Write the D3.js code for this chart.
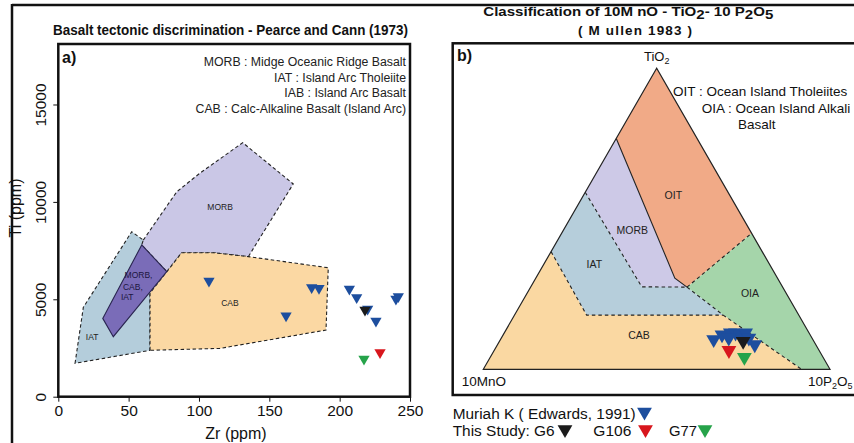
<!DOCTYPE html>
<html><head><meta charset="utf-8">
<script src="https://cdn.jsdelivr.net/npm/d3@7"></script>
<style>
body{margin:0;background:#fff}
svg{display:block}
text{font-family:"Liberation Sans",Arial,Helvetica,sans-serif}
</style>
</head><body>
<svg id="c" width="854" height="443"></svg>
<script>
// ---------------- Panel a : Pearce & Cann (1973), Zr vs Ti (ppm) ----------------
const zrTicks = [0, 50, 100, 150, 200, 250];
const tiTicks = [0, 5000, 10000, 15000];
const iatField  = [[11.9,1715],[17.8,4590],[52.2,8470],[60.4,8040],[77.1,6420],[65.2,5320],[65.2,2380]];
const morbField = [[60.4,8040],[84.2,10520],[100.6,11470],[131.1,13040],[167.0,10920],[135.1,7190],[110.2,7390],[87.7,7390],[77.1,6420],[59.3,7790]];
const cabField  = [[65.2,2380],[65.2,5320],[87.7,7390],[110.2,7390],[135.1,7190],[191.9,6620],[190.3,3420],[114.9,2480]];
const mixField  = [[59.3,7790],[77.1,6420],[39.1,3080],[31.6,4020]];
const muriahZr = [107.1, 161.9, 180.1, 185.3, 206.9, 212.1, 219.9, 225.8, 240.0, 241.7];
const muriahTi = [5940, 4160, 5600, 5565, 5530, 5090, 4500, 3890, 5015, 5140];
const studyNames = ["G6", "G106", "G77"];
const studyZr = [218.0, 228.7, 217.3];
const studyTi = [4450, 2265, 1935];
const legendA = ["MORB : Midge Oceanic Ridge Basalt", "IAT : Island Arc Tholeiite", "IAB : Island Arc Basalt", "CAB : Calc-Alkaline Basalt (Island Arc)"];

// ---------------- Panel b : Mullen (1983), [TiO2, 10MnO, 10P2O5] % ----------------
const oitField  = [[100,0,0],[76.7,23.3,0],[30.3,29.6,40.1],[27.3,27.6,45.1],[45.2,0,54.8]];
const oiaField  = [[27.3,27.6,45.1],[45.2,0,54.8],[0,0,100],[0,8.2,91.8],[18.0,21.8,60.2]];
const morbTern  = [[76.7,23.3,0],[58.8,41.2,0],[27.4,40.6,32.0],[27.3,27.6,45.1],[30.3,29.6,40.1]];
const iatTern   = [[58.8,41.2,0],[39.1,60.9,0],[18.0,61.2,20.8],[18.0,21.8,60.2],[27.3,27.6,45.1],[27.4,40.6,32.0]];
const cabTern   = [[39.1,60.9,0],[0,100,0],[0,8.2,91.8],[18.0,21.8,60.2],[18.0,61.2,20.8]];
const solidLine = [[76.7,23.3,0],[30.3,29.6,40.1],[27.3,27.6,45.1]];
const dashLines = [
  [[27.3,27.6,45.1],[45.2,0,54.8]],
  [[58.8,41.2,0],[27.4,40.6,32.0],[27.3,27.6,45.1]],
  [[39.1,60.9,0],[18.0,61.2,20.8],[18.0,21.8,60.2]],
  [[27.3,27.6,45.1],[18.0,21.8,60.2],[0,8.2,91.8]]
];
const muriahTern = [[9.9,28.6,61.5],[11.5,25.4,63.1],[12.1,22.7,65.2],[12.1,21.2,66.7],[11.5,20.1,68.4],[12.1,18.3,69.6],[10.4,18.2,71.4],[8.2,17.6,74.2],[10.4,24.0,65.6]];
const studyTern  = [[9.3,20.4,70.3],[6.3,26.0,67.7],[4.0,22.7,73.3]];

const blue = "#1d4e9e";
const studyColors = ["#1b1b1b", "#d8161d", "#26a34a"];

const svg = d3.select("#c");
svg.append("rect").attr("width",854).attr("height",443).attr("fill","#fff");

// frame lines
svg.append("line").attr("x1",12).attr("x2",854).attr("y1",5).attr("y2",5).attr("stroke","#111").attr("stroke-width",2.5);
svg.append("line").attr("x1",12).attr("x2",12).attr("y1",4).attr("y2",443).attr("stroke","#111").attr("stroke-width",2.5);

const tri = (s) => d3.symbol(d3.symbolTriangle, s)();

// ================= Panel a =================
const ax = d3.scaleLinear().domain([0,250]).range([58.3,410]);
const ay = d3.scaleLinear().domain([0,18105]).range([396.7,44]);
const gA = svg.append("g");
gA.append("rect").attr("x",58.3).attr("y",44).attr("width",410-58.3).attr("height",396.7-44).attr("fill","#fff");

const polyLine = d3.line().x(d=>ax(d[0])).y(d=>ay(d[1])).curve(d3.curveLinearClosed);
function field(pts, fill, dash, stroke) {
  gA.append("path").attr("d", polyLine(pts)).attr("fill", fill)
    .attr("stroke", stroke || "#222").attr("stroke-width", 1.1)
    .attr("stroke-dasharray", dash ? "3.5,2.5" : null);
}
field(iatField, "#b4cddb", true);
field(morbField, "#cac7e6", true);
field(cabField, "#fbd8a3", true);
field(mixField, "#7a6cb8", false, "#2a2550");

function fLabel(g, x, y, t, size, color) {
  g.append("text").attr("x",x).attr("y",y).attr("text-anchor","middle").attr("dominant-baseline","central")
   .attr("font-size",size).attr("fill",color||"#222").text(t);
}
fLabel(gA, ax(115), ay(9720), "MORB", 8.5);
fLabel(gA, ax(122), ay(4810), "CAB", 8.5);
fLabel(gA, ax(24), ay(3050), "IAT", 8.5);
fLabel(gA, ax(57), ay(6230), "MORB,", 8.5, "#1c1640");
fLabel(gA, ax(53), ay(5650), "CAB,", 8.5, "#1c1640");
fLabel(gA, ax(49), ay(5100), "IAT", 8.5, "#1c1640");

// points
gA.selectAll("path.mur").data(muriahZr).join("path").attr("class","mur")
  .attr("d", tri(55)).attr("fill", blue)
  .attr("transform",(d,i)=>`translate(${ax(d)},${ay(muriahTi[i])}) rotate(180)`);
gA.selectAll("path.st").data(studyZr).join("path").attr("class","st")
  .attr("d", tri(55)).attr("fill",(d,i)=>studyColors[i])
  .attr("transform",(d,i)=>`translate(${ax(d)},${ay(studyTi[i])}) rotate(180)`);

// axes
const xAxisA = d3.axisBottom(ax).tickValues(zrTicks).tickSize(5).tickPadding(3);
const yAxisA = d3.axisLeft(ay).tickValues(tiTicks).tickFormat(d3.format("d")).tickSize(5).tickPadding(3);
const gx = gA.append("g").attr("transform","translate(0,396.7)").call(xAxisA);
gx.select(".domain").remove();
gx.selectAll("text").attr("font-size",15.5).attr("fill","#111").attr("font-family",'"Liberation Sans",Arial,sans-serif');
gx.selectAll("line").attr("stroke","#111");
const gy = gA.append("g").attr("transform","translate(58.3,0)").call(yAxisA);
gy.select(".domain").remove();
gy.selectAll("line").attr("stroke","#111");
gy.selectAll("text").attr("font-size",15.5).attr("fill","#111").attr("font-family",'"Liberation Sans",Arial,sans-serif')
  .attr("text-anchor","middle").attr("dy",null).attr("dominant-baseline","central")
  .attr("transform","translate(-18,0) rotate(-90)").attr("x",0);
gA.append("rect").attr("x",58.3).attr("y",44).attr("width",410-58.3).attr("height",396.7-44)
  .attr("fill","none").attr("stroke","#111").attr("stroke-width",2.5);

gA.append("text").attr("x",236).attr("y",439).attr("text-anchor","middle").attr("font-size",16).attr("fill","#111").text("Zr (ppm)");
gA.append("text").attr("transform","translate(21,208) rotate(-90)").attr("text-anchor","middle").attr("font-size",16).attr("fill","#111").text("Ti (ppm)");
gA.append("text").attr("x",53).attr("y",35).attr("font-size",14).attr("font-weight","bold").attr("fill","#111")
  .attr("textLength",355).attr("lengthAdjust","spacingAndGlyphs").text("Basalt tectonic discrimination -  Pearce and Cann (1973)");
gA.append("text").attr("x",62).attr("y",63).attr("font-size",16).attr("font-weight","bold").attr("fill","#111").text("a)");
gA.selectAll("text.lg").data(legendA).join("text").attr("class","lg")
  .attr("x",406).attr("y",(d,i)=>66+i*15.6).attr("text-anchor","end").attr("font-size",12.3).attr("fill","#222").text(d=>d);

// ================= Panel b =================
const gB = svg.append("g");
gB.append("rect").attr("x",452.7).attr("y",43.3).attr("width",430).attr("height",395-43.3)
  .attr("fill","#fff").attr("stroke","#111").attr("stroke-width",2.5);
const bx = d3.scaleLinear().domain([0,100]).range([483.3,830]);
const by = d3.scaleLinear().domain([0,100]).range([369.3,68.3]);
const px = d => bx(d[2] + d[0]/2);
const py = d => by(d[0]);
const tline = d3.line().x(px).y(py);
function tField(pts, fill) {
  gB.append("path").attr("d", tline(pts) + "Z").attr("fill", fill).attr("stroke","none");
}
tField(oitField, "#f1aa87");
tField(oiaField, "#a5d5aa");
tField(morbTern, "#cdc9e7");
tField(iatTern, "#b6cedb");
tField(cabTern, "#fad8a2");
dashLines.forEach(l => gB.append("path").attr("d", tline(l)).attr("fill","none").attr("stroke","#222").attr("stroke-width",1.1).attr("stroke-dasharray","3.5,3"));
gB.append("path").attr("d", tline(solidLine)).attr("fill","none").attr("stroke","#222").attr("stroke-width",1.1);
gB.append("path").attr("d", tline([[100,0,0],[0,100,0],[0,0,100]]) + "Z").attr("fill","none").attr("stroke","#222").attr("stroke-width",1.2);

fLabel(gB, 673.3, 195, "OIT", 10.5);
fLabel(gB, 632.3, 230, "MORB", 10.5);
fLabel(gB, 594.3, 264.3, "IAT", 10.5);
fLabel(gB, 750, 293.3, "OIA", 10.5);
fLabel(gB, 639, 335, "CAB", 10.5);

gB.selectAll("path.mur").data(muriahTern).join("path").attr("class","mur")
  .attr("d", tri(95)).attr("fill", blue)
  .attr("transform", d=>`translate(${px(d)},${py(d)}) rotate(180)`);
gB.selectAll("path.st").data(studyTern).join("path").attr("class","st")
  .attr("d", tri(95)).attr("fill",(d,i)=>studyColors[i])
  .attr("transform", d=>`translate(${px(d)},${py(d)}) rotate(180)`);

// vertex labels
const tio = gB.append("text").attr("x",656.7).attr("y",61).attr("text-anchor","middle").attr("font-size",13).attr("fill","#111");
tio.append("tspan").text("TiO"); tio.append("tspan").attr("font-size",9).attr("dy",3).text("2");
gB.append("text").attr("x",461.7).attr("y",385.5).attr("font-size",13.5).attr("fill","#111").text("10MnO");
const p2 = gB.append("text").attr("x",808).attr("y",385.5).attr("font-size",13.5).attr("fill","#111");
p2.append("tspan").text("10P"); p2.append("tspan").attr("font-size",9).attr("dy",3).text("2");
p2.append("tspan").attr("dy",-3).text("O"); p2.append("tspan").attr("font-size",9).attr("dy",3).text("5");

// legend inside b
gB.append("text").attr("x",673).attr("y",96).attr("font-size",13.5).attr("fill","#111").text("OIT : Ocean Island Tholeiites");
gB.append("text").attr("x",701.7).attr("y",113).attr("font-size",13.5).attr("fill","#111").text("OIA : Ocean Island Alkali");
gB.append("text").attr("x",738).attr("y",128.5).attr("font-size",13.5).attr("fill","#111").text("Basalt");
gB.append("text").attr("x",457).attr("y",61).attr("font-size",16).attr("font-weight","bold").attr("fill","#111").text("b)");

// title b
const t1 = svg.append("text").attr("x",483.3).attr("y",16).attr("font-size",13.5).attr("font-weight","bold").attr("fill","#111")
  .attr("textLength",290).attr("lengthAdjust","spacingAndGlyphs");
t1.append("tspan").text("Classification of 10M nO  -  TiO");
t1.append("tspan").attr("dy",3).text("2");
t1.append("tspan").attr("dy",-3).text("-  10 P");
t1.append("tspan").attr("dy",3).text("2");
t1.append("tspan").attr("dy",-3).text("O");
t1.append("tspan").attr("dy",3).text("5");
svg.append("text").attr("x",578).attr("y",35).attr("font-size",13.5).attr("font-weight","bold").attr("fill","#111")
  .attr("textLength",114).attr("lengthAdjust","spacing").text("( M ullen 1983  )");

// bottom legend
const lg = svg.append("g");
lg.append("text").attr("x",452.7).attr("y",418.5).attr("font-size",15.5).attr("fill","#111")
  .attr("textLength",183).attr("lengthAdjust","spacingAndGlyphs").text("Muriah K ( Edwards, 1991)");
lg.append("path").attr("d",tri(95)).attr("fill",blue).attr("transform","translate(644.5,412) rotate(180)");
lg.append("text").attr("x",452.7).attr("y",435.5).attr("font-size",15.5).attr("fill","#111")
  .attr("textLength",102).attr("lengthAdjust","spacingAndGlyphs").text("This Study: G6");
const legX = [565, 645.5, 705];
const legTextX = [null, 593.3, 669];
const legTextW = [null, 38, 28];
studyNames.forEach((n,i)=>{
  if (i>0) lg.append("text").attr("x",legTextX[i]).attr("y",435.5).attr("font-size",15.5).attr("fill","#111")
    .attr("textLength",legTextW[i]).attr("lengthAdjust","spacingAndGlyphs").text(n);
  lg.append("path").attr("d",tri(95)).attr("fill",studyColors[i]).attr("transform",`translate(${legX[i]},429.5) rotate(180)`);
});
</script>
</body></html>
